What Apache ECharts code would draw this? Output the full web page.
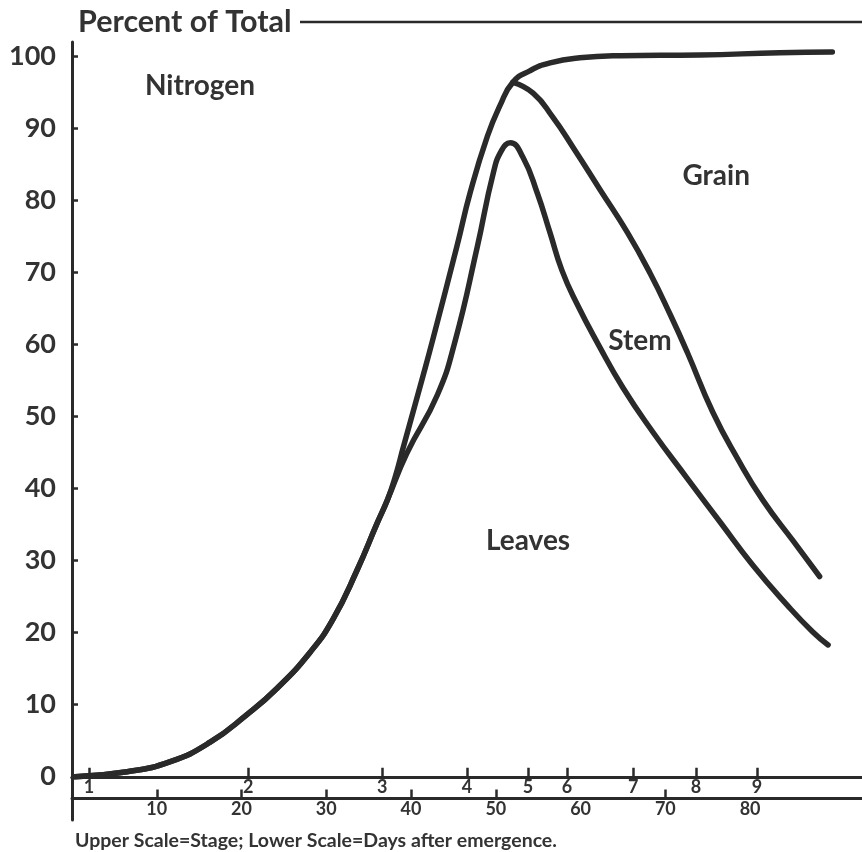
<!DOCTYPE html>
<html>
<head>
<meta charset="utf-8">
<script src="https://cdn.jsdelivr.net/npm/echarts@6/dist/echarts.min.js"></script>
<style>
html,body{margin:0;padding:0;background:#fff;}
#chart{width:862px;height:852px;}
</style>
</head>
<body>
<div id="chart"></div>
<script>
// ---- data (x = days after emergence, y = percent of total nitrogen) ----
const yTickValues = [0, 10, 20, 30, 40, 50, 60, 70, 80, 90, 100];
const dayLabelValues = [10, 20, 30, 40, 50, 60, 70, 80];
const dayTickValues = [10, 20, 30, 40, 50, 70];
const stageNames = ['1', '2', '3', '4', '5', '6', '7', '8', '9'];
const stageDays = [2.0, 20.8, 36.6, 46.6, 53.8, 58.4, 66.2, 73.6, 80.8];

// shared lower part of the curves
const commonDays = [0.35, 6.5, 11.6, 16.3, 20.6, 24.2, 28.1, 30.8, 33.6, 36.0, 37.2];
const commonPct  = [0.0, 0.7, 2.1, 4.8, 8.6, 12.3, 17.3, 21.9, 28.6, 35.2, 38.4];

// outer curve (leaves + stem, then whole plant)
const outerDays = [38.1, 39.1, 41.4, 42.5, 45.4, 47.0, 49.0, 50.5, 52.0, 54.0, 56.4, 59.9, 64.7, 74.1, 83.5, 89.7];
const outerPct  = [41.5, 45.8, 55.6, 60.4, 73.6, 81.2, 88.9, 93.2, 96.4, 98.0, 99.1, 99.8, 100.1, 100.2, 100.5, 100.6];

// stem / grain boundary
const stemDays = [52.0, 54.4, 56.7, 59.1, 62.3, 65.5, 68.2, 70.6, 72.6, 75.6, 78.5, 81.5, 85.1, 88.2];
const stemPct  = [96.4, 94.9, 91.6, 87.4, 81.5, 75.6, 69.9, 64.1, 58.9, 50.6, 44.2, 38.4, 32.7, 27.8];

// leaves / stem boundary
const leafDays = [39.5, 43.1, 45.2, 47.8, 49.7, 50.7, 51.7, 53.2, 54.9, 56.4, 57.8, 59.6, 62.1, 65.0, 68.5, 72.6, 76.5, 80.3, 84.4, 87.4, 89.2];
const leafPct  = [44.9, 53.0, 60.5, 73.5, 83.8, 87.0, 88.0, 86.0, 81.0, 75.5, 70.3, 65.6, 60.0, 54.0, 47.9, 41.4, 35.3, 29.4, 23.8, 20.1, 18.3];

// region labels
const regionNames = ['Nitrogen', 'Grain', 'Stem', 'Leaves'];
const regionDays  = [15.1, 76.0, 67.0, 53.8];
const regionPct   = [95.9, 83.4, 60.5, 32.7];

// ---- build ----
const pairs = (xs, ys) => xs.map((x, i) => [x, ys[i]]);
const outerData = pairs(commonDays, commonPct).concat(pairs(outerDays, outerPct));
const leafData = pairs(commonDays, commonPct).concat(pairs(leafDays, leafPct));
const stemData = pairs(stemDays, stemPct);
const regionData = regionNames.map((n, i) => ({ name: n, value: [regionDays[i], regionPct[i]] }));

const INK = '#2a2a2a';
const TXT = '#333333';
const FONT = 'Lato';

const chart = echarts.init(document.getElementById('chart'), null, { renderer: 'canvas' });

const lineSeries = (name, data) => ({
  name, type: 'line', data, smooth: 0.5, symbol: 'none', silent: true,
  xAxisIndex: 0, yAxisIndex: 0,
  lineStyle: { color: INK, width: 5.5, cap: 'round', join: 'round' },
  z: 5
});

const baseX = {
  type: 'value', min: 0, max: 93.2, position: 'bottom',
  splitLine: { show: false },
  axisLine: { show: true, lineStyle: { color: INK, width: 3 } },
  axisTick: { show: false },
  axisLabel: { show: false }
};

chart.setOption({
  animation: false,
  backgroundColor: '#ffffff',
  title: [
    { text: 'Percent of Total', left: 73, top: 2,
      textStyle: { fontFamily: FONT, fontSize: 30.5, fontWeight: 'bold', color: TXT } },
    { text: 'Upper Scale=Stage; Lower Scale=Days after emergence.', left: 70, top: 826,
      textStyle: { fontFamily: FONT, fontSize: 19.5, fontWeight: 'bold', color: TXT } }
  ],
  graphic: [
    { type: 'line', shape: { x1: 300, y1: 22, x2: 862, y2: 22 },
      style: { stroke: INK, lineWidth: 2.5 } }
  ],
  grid: { left: 72, right: 0, top: 42, bottom: 32, containLabel: false, outerBoundsMode: 'none' },
  xAxis: [
    Object.assign({}, baseX, {
      axisLabel: { show: true, inside: true, margin: 2, customValues: dayLabelValues,
        fontFamily: FONT, fontSize: 18, fontWeight: 'bold', color: TXT }
    }),
    Object.assign({}, baseX, {
      offset: -21.6,
      axisTick: { show: true, inside: true, length: 9, customValues: dayTickValues,
        lineStyle: { color: INK, width: 2.5 } }
    }),
    Object.assign({}, baseX, {
      offset: -43.2,
      axisTick: { show: true, inside: true, length: 9, customValues: stageDays,
        lineStyle: { color: INK, width: 2.5 } },
      axisLabel: { show: true, margin: 1, customValues: stageDays,
        formatter: (v) => { const i = stageDays.indexOf(v); return i >= 0 ? stageNames[i] : ''; },
        fontFamily: FONT, fontSize: 18, fontWeight: 'bold', color: TXT }
    })
  ],
  yAxis: {
    type: 'value', min: -6, max: 102,
    splitLine: { show: false },
    axisLine: { show: true, lineStyle: { color: INK, width: 3 } },
    axisTick: { show: true, inside: true, length: 6, customValues: yTickValues,
      lineStyle: { color: INK, width: 2.5 } },
    axisLabel: { show: true, margin: 16, customValues: yTickValues,
      fontFamily: FONT, fontSize: 27, fontWeight: 'bold', color: TXT }
  },
  series: [
    lineSeries('Leaves + Stem (+ Grain)', outerData),
    lineSeries('Stem', stemData),
    lineSeries('Leaves', leafData),
    {
      name: 'Regions', type: 'scatter', data: regionData, symbolSize: 0, silent: true,
      itemStyle: { opacity: 1 },
      label: { show: true, position: 'inside', formatter: (p) => p.name, opacity: 1,
        fontFamily: FONT, fontSize: 28, fontWeight: 'bold', color: TXT },
      z: 6
    }
  ]
});
</script>
</body>
</html>
